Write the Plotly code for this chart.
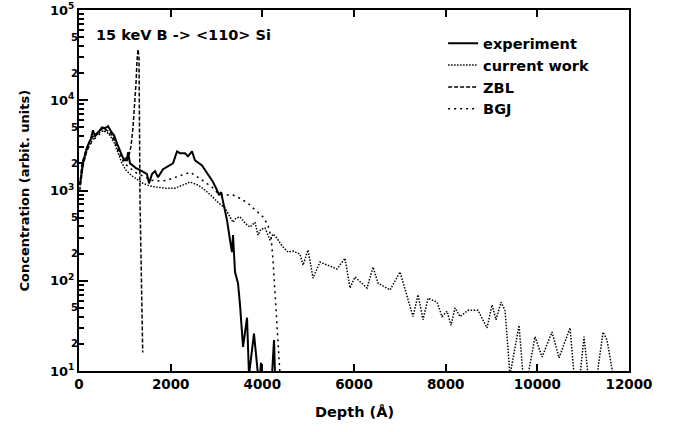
import plotly.graph_objects as go

# ---- data (depth in Angstrom, concentration in arbitrary units) ----
exp_depth = [20, 87, 175, 262, 305, 350, 436, 502, 567, 633, 698, 764, 829, 895, 982, 1047, 1069, 1113, 1244, 1375,
             1484, 1527, 1593, 1658, 1724, 1833, 2051, 2138, 2204, 2313, 2378, 2466, 2531, 2684, 2815, 2924, 3011, 3055,
             3099, 3229, 3295, 3338, 3360, 3404, 3469, 3513, 3579, 3666, 3709, 3818, 3906, 3950, 3971, 3993, 4211, 4255, 4277]
exp_conc = [1150, 2030, 3000, 3790, 4640, 3990, 4530, 5000, 4890, 5150, 4530, 4090, 3330, 2790, 2160, 2160, 2650, 2000, 1770, 1640,
            1520, 1200, 1520, 1640, 1400, 1720, 2000, 2710, 2590, 2590, 2390, 2710, 2160, 1900, 1480, 1240, 1010, 890,
            960, 470, 282, 208, 320, 125, 94, 54, 18.5, 39, 9, 26, 9, 9, 12.3, 9, 9, 22, 9]

cw_depth = [20, 87, 175, 284, 393, 502, 589, 676, 764, 851, 938, 1026, 1135, 1266, 1396, 1549, 1702, 1877, 2095, 2269,
            2422, 2597, 2749, 2924, 3055, 3186, 3295, 3360, 3426, 3513, 3622, 3731, 3840, 3906, 3971, 4059, 4168, 4233, 4320, 4386,
            4473, 4560, 4669, 4822, 4888, 4997, 5106, 5259, 5630, 5804, 5913, 6022, 6284, 6415, 6524, 6786, 7004, 7288, 7397, 7506,
            7615, 7812, 7921, 8030, 8117, 8204, 8313, 8488, 8706, 8902, 9012, 9099, 9208, 9295, 9404, 9601, 9688, 9797, 9950, 10103,
            10321, 10474, 10714, 10801, 10932, 11019, 11106, 11303, 11434, 11521, 11652]
cw_conc = [1060, 1900, 2790, 3600, 4200, 4530, 4530, 4090, 3420, 2590, 2000, 1680, 1480, 1330, 1200, 1120, 1090, 1060, 1060, 1150,
           1240, 1150, 1010, 840, 720, 640, 520, 445, 494, 510, 435, 393, 445, 320, 373, 383, 282, 329, 297, 261,
           230, 208, 213, 197, 149, 219, 107, 161, 135, 178, 83, 110, 83, 142, 94, 79, 125, 40, 70, 37,
           64, 58, 40, 46, 32, 50, 40, 47, 47, 30, 54, 37, 58, 47, 9, 32, 9, 9, 24, 14.3,
           27, 14, 30, 9, 9, 24, 9, 9, 27, 22, 9]

zbl_depth = [20, 65, 153, 240, 327, 415, 524, 611, 698, 786, 851, 916, 982, 1026, 1091, 1135, 1178, 1222, 1244, 1266,
             1287, 1309, 1331, 1390]
zbl_conc = [1150, 2000, 2790, 3600, 4090, 4410, 4890, 4640, 4300, 3600, 2940, 2460, 2300, 2250, 2460, 3100, 5000, 10000, 15400, 27600,
            36600, 29800, 780, 16]

bgj_depth = [20, 87, 175, 284, 415, 545, 633, 720, 807, 895, 982, 1113, 1266, 1440, 1593, 1767, 1920, 2051, 2247, 2422,
             2597, 2749, 2902, 3033, 3186, 3360, 3513, 3688, 3862, 4015, 4124, 4190, 4233, 4277, 4320, 4364, 4386]
bgj_conc = [1010, 1900, 2790, 3510, 4090, 4530, 4410, 3890, 3170, 2460, 2030, 1770, 1550, 1400, 1300, 1270, 1300, 1370, 1480, 1590,
            1400, 1240, 1090, 930, 890, 890, 820, 720, 605, 510, 413, 305, 170, 79, 37, 17, 9]

x_ticks = [0, 2000, 4000, 6000, 8000, 10000, 12000]
x_labels = ["0", "2000", "4000", "6000", "8000", "10000", "12000"]
decades = [10, 100, 1000, 10000, 100000]
decade_labels = ["10<sup>1</sup>", "10<sup>2</sup>", "10<sup>3</sup>", "10<sup>4</sup>", "10<sup>5</sup>"]
mid_vals = [20, 50, 200, 500, 2000, 5000, 20000, 50000]
mid_labels = ["2", "5", "2", "5", "2", "5", "2", "5"]
y_minor_vals = [k * d for d in decades[:-1] for k in (3, 4, 6, 7, 8, 9)]

FONT = "DejaVu Sans"

fig = go.Figure()
fig.add_trace(go.Scatter(x=cw_depth, y=cw_conc, mode="lines", name="current work",
                         line=dict(color="black", width=1.5, dash="1.5px,1.5px"), legendrank=2))
fig.add_trace(go.Scatter(x=zbl_depth, y=zbl_conc, mode="lines", name="ZBL",
                         line=dict(color="black", width=1.5, dash="4px,2px"), legendrank=3))
fig.add_trace(go.Scatter(x=bgj_depth, y=bgj_conc, mode="lines", name="BGJ",
                         line=dict(color="black", width=1.5, dash="2px,4px"), legendrank=4))
fig.add_trace(go.Scatter(x=exp_depth, y=exp_conc, mode="lines", name="experiment", yaxis="y2",
                         line=dict(color="black", width=2), legendrank=1))

fig.update_layout(
    width=680, height=432,
    margin=dict(l=79, r=51, t=10, b=61),
    plot_bgcolor="white", paper_bgcolor="white",
    font=dict(family=FONT, color="black", weight="bold"),
    legend=dict(x=0.662, y=0.952, xanchor="left", yanchor="top", bgcolor="rgba(0,0,0,0)",
                font=dict(family=FONT, size=14.5, weight="bold", color="black"), tracegroupgap=0),
    xaxis=dict(range=[0, 12000], tickmode="array", tickvals=x_ticks, ticktext=x_labels, ticks="inside", ticklen=7,
               tickwidth=2, tickcolor="black", linecolor="black", linewidth=2, mirror="ticks", showgrid=False,
               zeroline=False, automargin=False,
               tickfont=dict(family=FONT, size=13.5, weight="bold", color="black")),
    yaxis=dict(type="log", range=[1, 5], tickmode="array", tickvals=decades, ticktext=decade_labels,
               ticks="inside", ticklen=9, tickwidth=2, tickcolor="black", linecolor="black", linewidth=2,
               mirror=True, showgrid=False, zeroline=False, automargin=False,
               tickfont=dict(family=FONT, size=13, weight="bold", color="black"),
               minor=dict(tickmode="array", tickvals=y_minor_vals, ticks="inside", ticklen=5, tickwidth=1.5,
                          tickcolor="black")),
    yaxis2=dict(type="log", range=[1, 5], overlaying="y", side="left", tickmode="array", tickvals=mid_vals,
                ticktext=mid_labels, ticks="inside", ticklen=5, tickwidth=1.5, tickcolor="black",
                showline=False, showgrid=False, zeroline=False, automargin=False,
                tickfont=dict(family=FONT, size=10, weight="bold", color="black")),
    annotations=[
        dict(text="15 keV B -&gt; &lt;110&gt; Si", xref="paper", yref="paper", x=0.028, y=0.932,
             xanchor="left", yanchor="middle", showarrow=False,
             font=dict(family=FONT, size=14.5, weight="bold", color="black")),
        dict(text="Depth (Å)", xref="paper", yref="paper", x=0.5, y=-0.1136,
             xanchor="center", yanchor="middle", showarrow=False,
             font=dict(family=FONT, size=14.5, weight="bold", color="black")),
        dict(text="Concentration (arbit. units)", xref="paper", yref="paper", x=-0.0982, y=0.5,
             xanchor="center", yanchor="middle", textangle=-90, showarrow=False,
             font=dict(family=FONT, size=13, weight="bold", color="black")),
    ],
)

fig.write_html("out.html", config={"displayModeBar": False},
               post_script="document.body.style.margin='0px'; document.body.style.overflow='hidden';")
